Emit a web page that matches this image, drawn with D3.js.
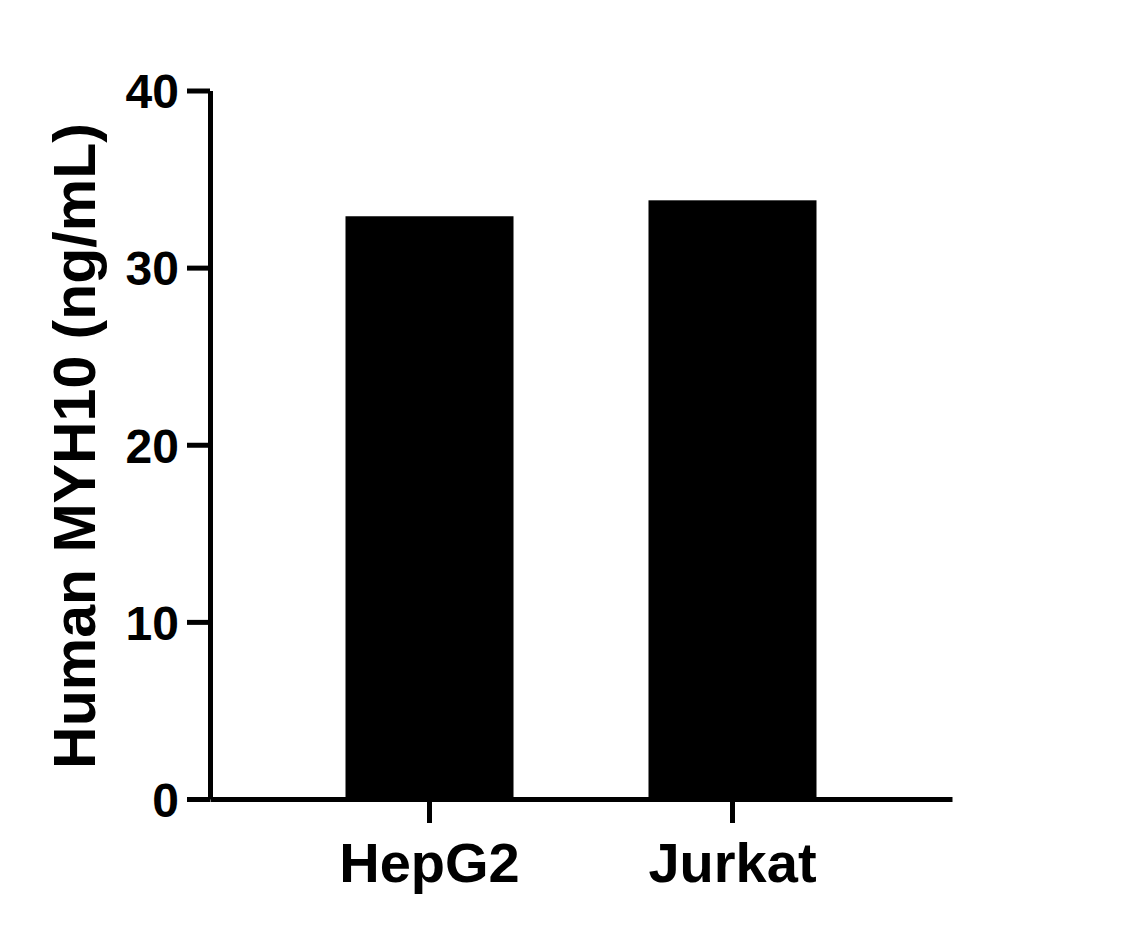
<!DOCTYPE html>
<html>
<head>
<meta charset="utf-8">
<script src="https://cdn.jsdelivr.net/npm/d3@7"></script>
<style>
  html, body { margin: 0; padding: 0; background: #fff; }
  svg { display: block; }
</style>
</head>
<body>
<svg id="chart" width="1131" height="934"></svg>
<script>
const categories = ["HepG2", "Jurkat"];
const values = [32.9, 33.8];
const yTicks = [0, 10, 20, 30, 40];
const yTitle = "Human MYH10 (ng/mL)";

const svg = d3.select("#chart");
const font = "'Liberation Sans', Arial, Helvetica, sans-serif";
const x0 = 210, x1 = 952, yBottom = 799, yTop = 90.5;

const x = d3.scaleBand().domain(categories).range([x0, x1])
  .paddingInner(0.4455).paddingOuter(0.4472).align(0.5);
const y = d3.scaleLinear().domain([0, 40]).range([yBottom, yTop]);

// bars
svg.append("g").selectAll("rect").data(categories).join("rect")
  .attr("x", d => x(d))
  .attr("width", x.bandwidth())
  .attr("y", (d, i) => y(values[i]))
  .attr("height", (d, i) => y(0) - y(values[i]))
  .attr("fill", "#000");

// y axis
const gy = svg.append("g").attr("transform", `translate(${x0},0)`)
  .call(d3.axisLeft(y).tickValues(yTicks).tickFormat(d3.format("d"))
    .tickSize(23).tickSizeOuter(0).tickPadding(8));
gy.select(".domain").attr("stroke", "#000").attr("stroke-width", 5);
gy.selectAll(".tick line").attr("stroke", "#000").attr("stroke-width", 5);
gy.selectAll(".tick text").attr("fill", "#000")
  .style("font-family", font).style("font-weight", "bold").style("font-size", "48px")
  .attr("dy", "0.36em");

// x axis
const gx = svg.append("g").attr("transform", `translate(0,${yBottom})`)
  .call(d3.axisBottom(x).tickSize(24).tickSizeOuter(0));
gx.select(".domain").attr("stroke", "#000").attr("stroke-width", 5);
gx.selectAll(".tick line").attr("stroke", "#000").attr("stroke-width", 5);
gx.selectAll(".tick text").attr("fill", "#000")
  .style("font-family", font).style("font-weight", "bold").style("font-size", "56px")
  .attr("y", 83).attr("dy", "0");

// y title
svg.append("text")
  .attr("transform", "translate(95,446) rotate(-90)")
  .attr("text-anchor", "middle")
  .style("font-family", font).style("font-weight", "bold").style("font-size", "59px")
  .attr("fill", "#000")
  .text(yTitle);
</script>
</body>
</html>
